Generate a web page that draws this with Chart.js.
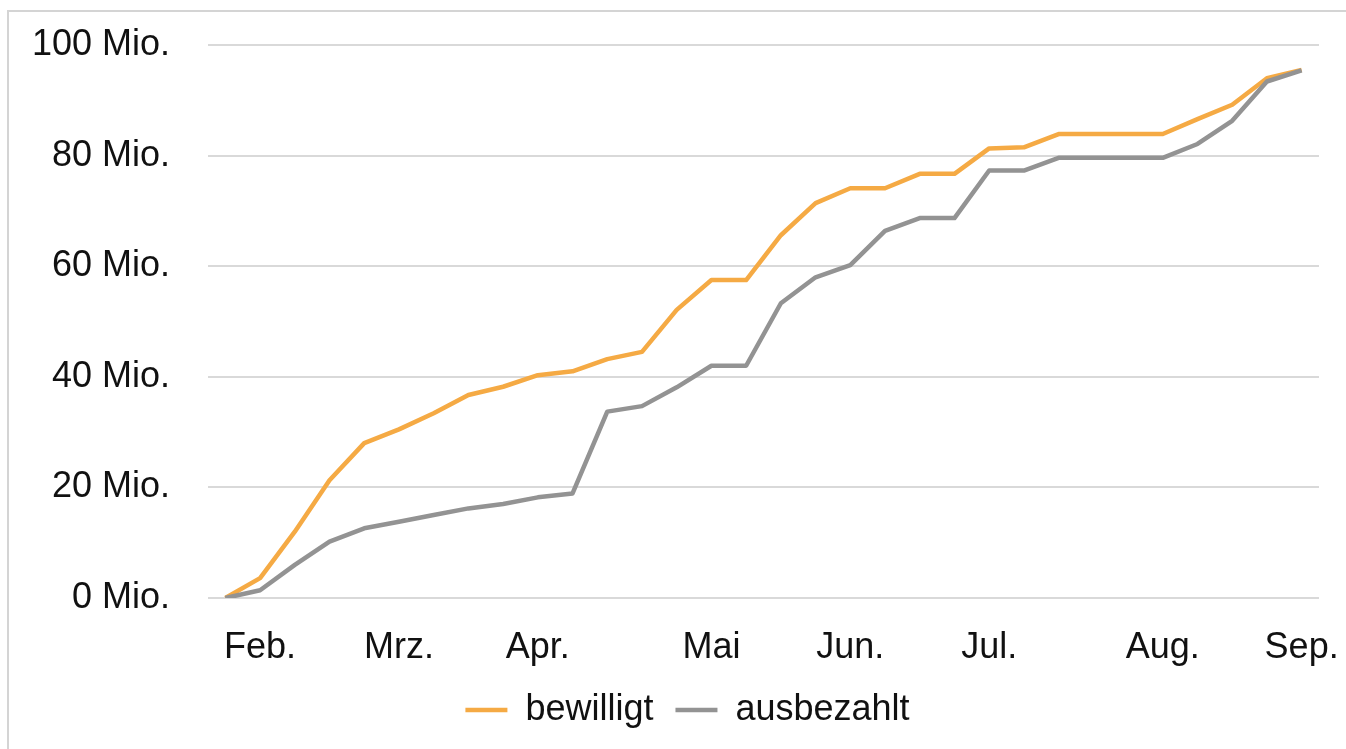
<!DOCTYPE html>
<html>
<head>
<meta charset="utf-8">
<script src="https://cdn.jsdelivr.net/npm/chart.js@4"></script>
<style>
  html, body { margin: 0; padding: 0; background: #fff; }
  #rahmen { position: absolute; left: 7px; top: 10px; width: 1400px; height: 800px; border: 2px solid #d4d4d4; }
  #box { position: absolute; left: 0; top: 0; width: 1346px; height: 749px; }
</style>
</head>
<body>
<div id="rahmen"></div>
<div id="box"><canvas id="grafik"></canvas></div>
<script>
// Wochenwerte (Mio.), Beschriftung nur am Monatsanfang
var wochen = ["", "Feb.", "", "", "", "Mrz.", "", "", "", "Apr.", "", "", "", "", "Mai", "", "", "", "Jun.", "", "", "", "Jul.", "", "", "", "", "Aug.", "", "", "", "Sep."];
var bewilligt = [0, 3.6, 12.0, 21.3, 28.0, 30.5, 33.4, 36.7, 38.2, 40.3, 41.0, 43.2, 44.5, 52.1, 57.5, 57.5, 65.6, 71.4, 74.1, 74.1, 76.7, 76.7, 81.3, 81.5, 83.9, 83.9, 83.9, 83.9, 86.6, 89.2, 94.0, 95.5];
var ausbezahlt = [0, 1.4, 6.0, 10.2, 12.6, 13.8, 15.0, 16.2, 17.0, 18.2, 18.9, 33.7, 34.7, 38.1, 42.0, 42.0, 53.3, 58.0, 60.2, 66.4, 68.7, 68.7, 77.3, 77.3, 79.6, 79.6, 79.6, 79.6, 82.1, 86.3, 93.4, 95.4];
var yTicks = [0, 20, 40, 60, 80, 100];

var schrift = { family: "'Liberation Sans', Arial, sans-serif", size: 36 };

// Legende etwas nach rechts schieben (wie im Original)
var legendeVerschieben = {
    id: "legendeVerschieben",
    afterLayout: function (chart) {
        chart.legend.left += 28;
        chart.legend.right += 28;
    }
};

new Chart(grafik.getContext("2d"), {
    type: "line",
    data: {
        labels: wochen,
        datasets: [{
            label: "bewilligt",
            data: bewilligt,
            borderColor: "#f5aa44",
            backgroundColor: "#f5aa44",
            borderWidth: 4.5,
            pointRadius: 0,
            tension: 0,
            borderJoinStyle: "round",
            order: 1
        }, {
            label: "ausbezahlt",
            data: ausbezahlt,
            borderColor: "#939393",
            backgroundColor: "#939393",
            borderWidth: 4.5,
            pointRadius: 0,
            tension: 0,
            borderJoinStyle: "round",
            order: 0
        }]
    },
    plugins: [legendeVerschieben],
    options: {
        responsive: true,
        maintainAspectRatio: false,
        animation: false,
        layout: { padding: { left: 0, right: 27, top: 45, bottom: 11 } },
        scales: {
            x: {
                offset: true,
                grid: { display: false, drawTicks: false },
                border: { display: false },
                ticks: { color: "#111", font: schrift, autoSkip: false, maxRotation: 0, padding: 28 },
                afterFit: function (s) {
                    s.height = 72;
                    s.paddingLeft = 0;
                    s.paddingRight = 0;
                }
            },
            y: {
                min: 0,
                max: 100,
                afterBuildTicks: function (s) { s.ticks = yTicks.map(function (v) { return { value: v }; }); },
                grid: { color: "#d9d9d9", lineWidth: 2, drawTicks: false },
                border: { display: false },
                ticks: {
                    color: "#111",
                    font: schrift,
                    padding: 38,
                    callback: function (v) { return v + " Mio."; }
                },
                afterFit: function (s) {
                    s.width = 208;
                    s.paddingTop = 0;
                    s.paddingBottom = 0;
                }
            }
        },
        plugins: {
            legend: {
                position: "bottom",
                labels: {
                    color: "#111",
                    font: schrift,
                    usePointStyle: true,
                    pointStyle: "line",
                    pointStyleWidth: 42,
                    padding: 22,
                    sort: function (a, b) { return a.datasetIndex - b.datasetIndex; }
                }
            },
            tooltip: { enabled: false }
        }
    }
});
</script>
</body>
</html>
